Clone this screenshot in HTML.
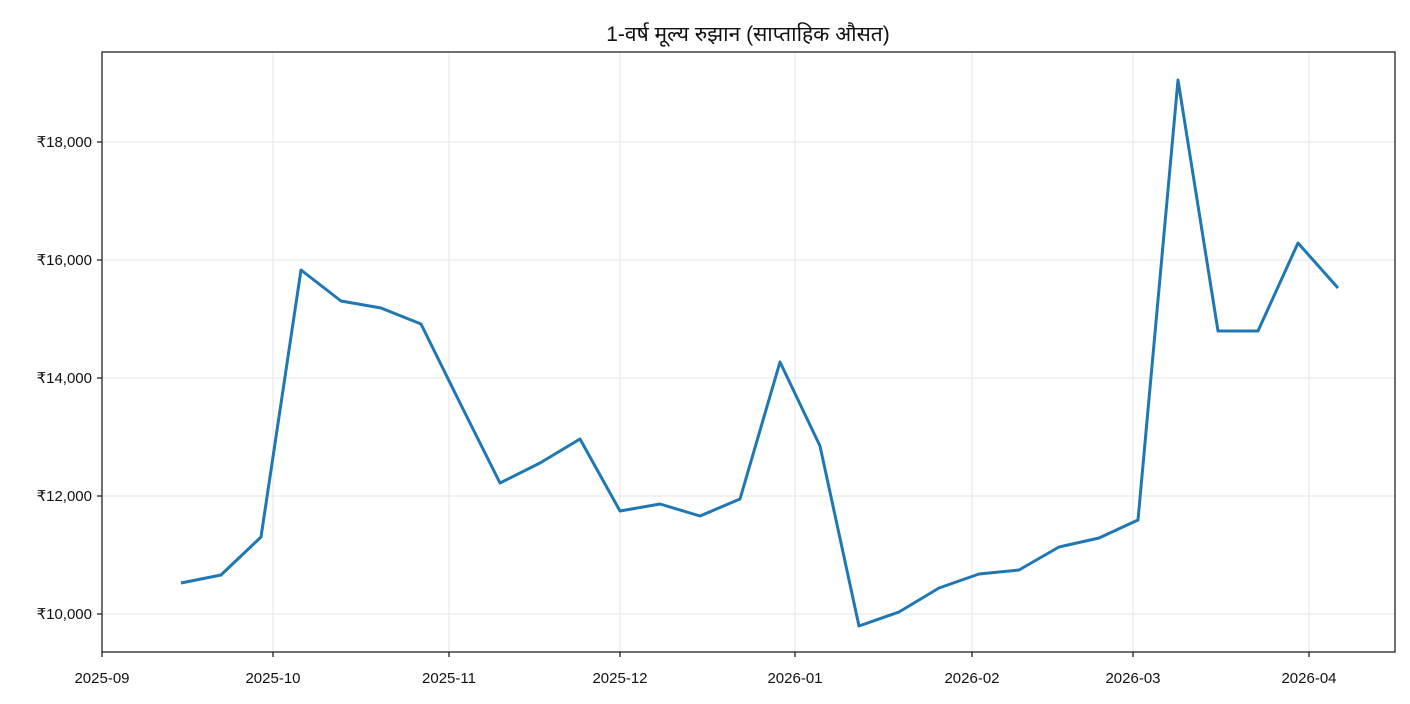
<!DOCTYPE html>
<html><head><meta charset="utf-8"><style>
html,body{margin:0;padding:0;background:#fff;}
svg{display:block;font-family:"Liberation Sans","DejaVu Sans",sans-serif;}
</style></head><body>
<svg width="1410" height="704" viewBox="0 0 1410 704" xmlns="http://www.w3.org/2000/svg">
<rect width="1410" height="704" fill="#fff"/>
<g stroke="#e6e6e6" stroke-width="1">
<line x1="273" y1="52" x2="273" y2="652"/>
<line x1="449" y1="52" x2="449" y2="652"/>
<line x1="620" y1="52" x2="620" y2="652"/>
<line x1="795" y1="52" x2="795" y2="652"/>
<line x1="972" y1="52" x2="972" y2="652"/>
<line x1="1133" y1="52" x2="1133" y2="652"/>
<line x1="1309" y1="52" x2="1309" y2="652"/>
<line x1="102" y1="142" x2="1395" y2="142"/>
<line x1="102" y1="260" x2="1395" y2="260"/>
<line x1="102" y1="378" x2="1395" y2="378"/>
<line x1="102" y1="496" x2="1395" y2="496"/>
<line x1="102" y1="614" x2="1395" y2="614"/>
</g>
<polyline fill="none" stroke="#1f77b4" stroke-width="3" stroke-linejoin="round" points="181,583 221,575 261,537 301,270 341,301 381,308 421,324 461,405 500,483 540,463 580,439 620,511 660,504 700,516 740,499 780,362 820,446 859,626 899,612 939,588 979,574 1019,570 1059,547 1099,538 1138,520 1178,80 1218,331 1258,331 1298,243 1338,288"/>
<rect x="102" y="52" width="1293" height="600" fill="none" stroke="#222" stroke-width="1.3"/>
<g stroke="#222" stroke-width="1.3">
<line x1="102" y1="652" x2="102" y2="657"/><line x1="273" y1="652" x2="273" y2="657"/><line x1="449" y1="652" x2="449" y2="657"/><line x1="620" y1="652" x2="620" y2="657"/><line x1="795" y1="652" x2="795" y2="657"/><line x1="972" y1="652" x2="972" y2="657"/><line x1="1133" y1="652" x2="1133" y2="657"/><line x1="1309" y1="652" x2="1309" y2="657"/>
<line x1="97" y1="142" x2="102" y2="142"/><line x1="97" y1="260" x2="102" y2="260"/><line x1="97" y1="378" x2="102" y2="378"/><line x1="97" y1="496" x2="102" y2="496"/><line x1="97" y1="614" x2="102" y2="614"/>
</g>
<g font-size="15" fill="#111" text-anchor="middle">
<text x="102" y="683">2025-09</text><text x="273" y="683">2025-10</text><text x="449" y="683">2025-11</text><text x="620" y="683">2025-12</text><text x="795" y="683">2026-01</text><text x="972" y="683">2026-02</text><text x="1133" y="683">2026-03</text><text x="1309" y="683">2026-04</text>
</g>
<g font-size="15" fill="#111" text-anchor="end">
<text x="92" y="147">₹18,000</text><text x="92" y="265">₹16,000</text><text x="92" y="383">₹14,000</text><text x="92" y="501">₹12,000</text><text x="92" y="619">₹10,000</text>
</g>
<text x="748" y="41" font-size="21" text-anchor="middle" fill="#111">1-वर्ष मूल्य रुझान (साप्ताहिक औसत)</text>
</svg>
</body></html>
